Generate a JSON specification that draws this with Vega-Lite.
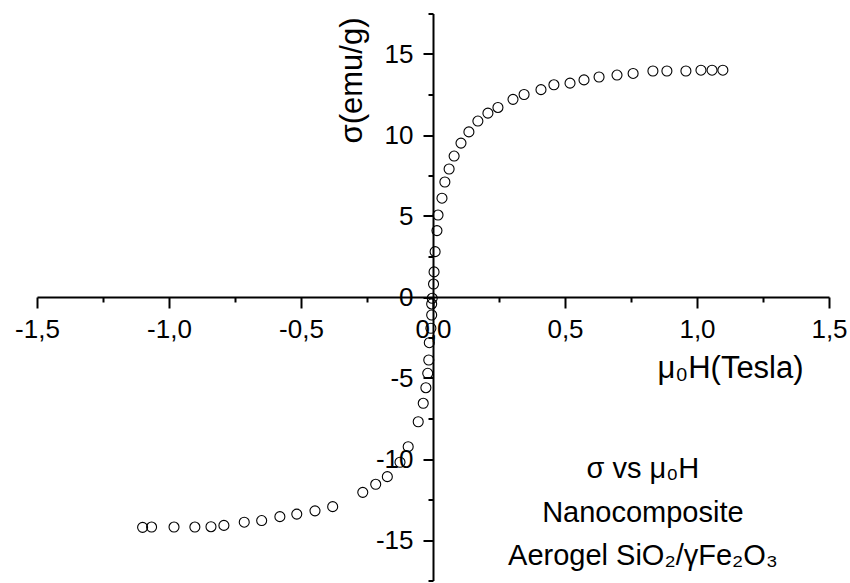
{
  "$schema": "https://vega.github.io/schema/vega-lite/v6.json",
  "width": 792,
  "height": 567,
  "autosize": "none",
  "padding": {"left": 37, "top": 13.5, "right": 21, "bottom": 2.5},
  "background": "white",
  "config": {"view": {"stroke": null}, "font": "Liberation Sans"},
  "layer": [
    {
      "data": {"values": [
        {"H": 1.098, "sigma": 14.0}, {"H": 1.057, "sigma": 14.0}, {"H": 1.015, "sigma": 14.0},
        {"H": 0.958, "sigma": 13.95}, {"H": 0.886, "sigma": 13.95}, {"H": 0.833, "sigma": 13.95},
        {"H": 0.758, "sigma": 13.8}, {"H": 0.697, "sigma": 13.7}, {"H": 0.629, "sigma": 13.58},
        {"H": 0.572, "sigma": 13.4}, {"H": 0.519, "sigma": 13.2}, {"H": 0.458, "sigma": 13.1},
        {"H": 0.409, "sigma": 12.8}, {"H": 0.345, "sigma": 12.5}, {"H": 0.303, "sigma": 12.2},
        {"H": 0.246, "sigma": 11.7}, {"H": 0.208, "sigma": 11.35}, {"H": 0.17, "sigma": 10.86},
        {"H": 0.136, "sigma": 10.19}, {"H": 0.106, "sigma": 9.5}, {"H": 0.08, "sigma": 8.7},
        {"H": 0.061, "sigma": 7.9}, {"H": 0.045, "sigma": 7.1}, {"H": 0.034, "sigma": 6.1},
        {"H": 0.019, "sigma": 5.06}, {"H": 0.015, "sigma": 4.1}, {"H": 0.008, "sigma": 2.8},
        {"H": 0.004, "sigma": 1.55}, {"H": 0.002, "sigma": 0.8}, {"H": -0.003, "sigma": -0.08},
        {"H": -0.005, "sigma": -0.43}, {"H": -0.005, "sigma": -1.11}, {"H": -0.008, "sigma": -1.93},
        {"H": -0.014, "sigma": -2.82}, {"H": -0.016, "sigma": -3.89}, {"H": -0.02, "sigma": -4.71},
        {"H": -0.027, "sigma": -5.6}, {"H": -0.037, "sigma": -6.56}, {"H": -0.056, "sigma": -7.7},
        {"H": -0.094, "sigma": -9.24}, {"H": -0.125, "sigma": -10.2}, {"H": -0.173, "sigma": -11.09},
        {"H": -0.217, "sigma": -11.56}, {"H": -0.266, "sigma": -12.06}, {"H": -0.38, "sigma": -12.94},
        {"H": -0.447, "sigma": -13.2}, {"H": -0.516, "sigma": -13.4}, {"H": -0.58, "sigma": -13.56},
        {"H": -0.649, "sigma": -13.8}, {"H": -0.715, "sigma": -13.9}, {"H": -0.792, "sigma": -14.1},
        {"H": -0.841, "sigma": -14.18}, {"H": -0.902, "sigma": -14.2}, {"H": -0.981, "sigma": -14.2},
        {"H": -1.066, "sigma": -14.2}, {"H": -1.1, "sigma": -14.22}
      ]},
      "mark": {"type": "point", "shape": "circle", "filled": false, "stroke": "black", "strokeWidth": 1.1, "size": 100, "opacity": 1},
      "encoding": {
        "x": {
          "field": "H", "type": "quantitative",
          "scale": {"domain": [-1.5, 1.5], "nice": false, "zero": false},
          "axis": {
            "orient": "bottom", "offset": -283.5,
            "values": [-1.5, -1.25, -1, -0.75, -0.5, -0.25, 0, 0.25, 0.5, 0.75, 1, 1.25, 1.5],
            "labelExpr": "abs(datum.value*2 - round(datum.value*2)) < 0.001 ? replace((datum.value < 0 ? '-' : '') + format(abs(datum.value), '.1f'), '.', ',') : ''",
            "tickSize": {"condition": {"test": "abs(datum.value*2 - round(datum.value*2)) < 0.001", "value": 11}, "value": 5},
            "grid": false, "domainColor": "black", "domainWidth": 2, "tickColor": "black", "tickWidth": 2,
            "labelFontSize": 26, "labelColor": "black", "labelPadding": 8, "labelFlush": false, "labelOverlap": false,
            "title": "μ₀H(Tesla)", "titleFontSize": 31, "titleFontWeight": "normal", "titleColor": "black",
            "titleX": 693, "titleY": 71, "titleBaseline": "middle", "titleAlign": "center"
          }
        },
        "y": {
          "field": "sigma", "type": "quantitative",
          "scale": {"domain": [-17.5, 17.5], "nice": false, "zero": false},
          "axis": {
            "orient": "left", "offset": -396,
            "values": [-17.5, -15, -12.5, -10, -7.5, -5, -2.5, 0, 2.5, 5, 7.5, 10, 12.5, 15, 17.5],
            "labelExpr": "datum.value % 5 == 0 ? '' + datum.value : ''",
            "tickSize": {"condition": {"test": "datum.value % 5 == 0", "value": 10}, "value": 5},
            "grid": false, "domainColor": "black", "domainWidth": 2, "tickColor": "black", "tickWidth": 2,
            "labelFontSize": 26, "labelColor": "black", "labelPadding": 10, "labelOverlap": false, "labelFlush": false,
            "title": "σ(emu/g)", "titleFontSize": 31, "titleFontWeight": "normal", "titleColor": "black",
            "titleX": -81, "titleY": 66.5, "titleBaseline": "middle", "titleAlign": "center", "titleAngle": -90
          }
        }
      }
    },
    {
      "data": {"values": [{"note": "annotation"}]},
      "mark": {"type": "text", "align": "center", "baseline": "middle", "fontSize": 29, "lineHeight": 43.5, "color": "black",
        "text": ["σ vs μ₀H", "Nanocomposite", "Aerogel SiO₂/γFe₂O₃"]},
      "encoding": {
        "x": {"datum": 0.795, "type": "quantitative"},
        "y": {"datum": -10.62, "type": "quantitative"}
      }
    }
  ]
}
